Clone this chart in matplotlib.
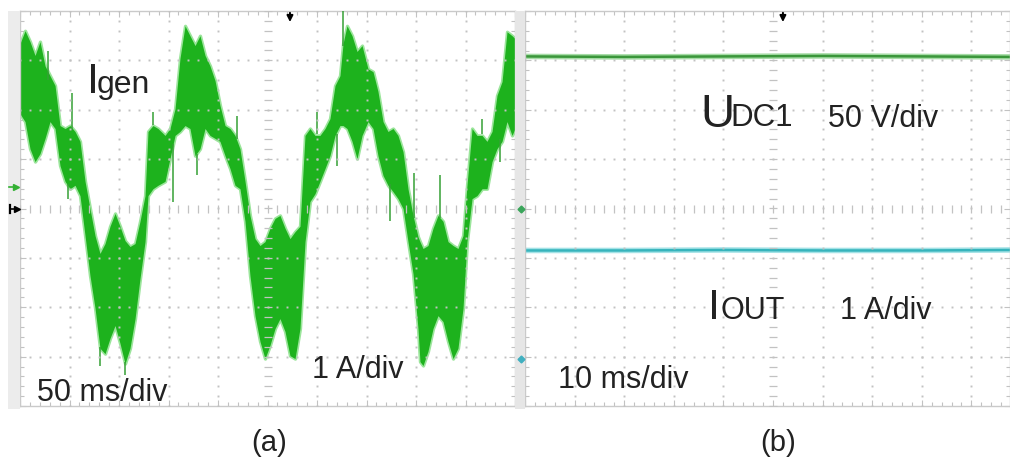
import numpy as np
import matplotlib
matplotlib.use("Agg")
import matplotlib.pyplot as plt
from matplotlib.ticker import MultipleLocator
from matplotlib.patches import Rectangle

plt.rcParams['font.family'] = ['Liberation Sans', 'DejaVu Sans']

# ---------------- Data ----------------
# Panel (a): generator current Igen, time in ms (50 ms/div), current in A (1 A/div, screen centre = 0)
igen_t = [0, 5.1, 10.1, 15.2, 20.2, 25.3, 30.3, 35.4, 40.4, 45.5, 50.5, 55.6, 60.6, 65.7,
          70.7, 75.8, 80.8, 85.9, 90.9, 96.0, 101.0, 106.1, 111.1, 116.2, 121.2, 126.3,
          129.3, 134.3, 139.4, 146.5, 151.5, 156.6, 161.6, 166.7, 171.7, 176.8, 181.8,
          186.9, 191.9, 197.0, 202.0, 207.1, 212.1, 217.2, 222.2, 227.3, 232.3, 237.4,
          242.4, 247.5, 252.5, 257.6, 262.6, 267.7, 272.7, 277.8, 282.8, 287.9, 292.9,
          298.0, 303.0, 308.1, 313.1, 318.2, 323.2, 326.3, 330.3, 335.4, 340.4, 345.5,
          351.5, 356.6, 361.6, 366.7, 371.7, 376.8, 381.8, 386.9, 391.9, 397.0, 402.0,
          404.0, 407.1, 412.1, 417.2, 422.2, 427.3, 432.3, 437.4, 442.4, 447.5, 451.5,
          456.6, 461.6, 466.7, 471.7, 476.8, 481.8, 486.9, 491.9, 497.0, 500.0]
igen_upper = [3.34, 3.60, 3.38, 3.10, 3.38, 2.89, 2.69, 2.49, 1.68, 1.62, 1.68, 1.56, 1.36, 0.55,
              0.00, -0.55, -0.91, -0.71, -0.36, -0.10, -0.36, -0.65, -0.77, -0.71, -0.26, 0.26,
              1.56, 1.68, 1.62, 1.48, 1.62, 2.02, 3.04, 3.70, 3.50, 3.30, 3.50,
              3.10, 2.89, 2.59, 2.09, 1.68, 1.62, 1.48, 1.21, 0.55, -0.14, -0.61,
              -0.75, -0.67, -0.40, -0.20, -0.14, -0.40, -0.61, -0.47, -0.36, 1.48, 1.62,
              1.48, 1.48, 1.62, 1.82, 2.49, 2.69, 3.34, 3.70, 3.50, 3.18, 3.30,
              2.83, 2.77, 2.37, 1.76, 1.56, 1.62, 1.48, 1.15, 0.40, -0.14, -0.57,
              -0.67, -0.81, -0.75, -0.40, -0.14, -0.26, -0.67, -0.75, -0.81, -0.55, 0.47,
              1.62, 1.48, 1.48, 1.36, 1.56, 2.29, 2.57, 3.58, 3.50, 3.44]
igen_lower = [1.92, 1.76, 1.21, 0.95, 1.11, 1.42, 1.76, 1.62, 0.87, 0.55, 0.40, 0.47, 0.26, -0.55,
              -1.36, -2.02, -2.83, -2.94, -2.63, -2.37, -2.73, -3.14, -2.83, -2.23, -1.42, -0.67,
              0.26, 0.40, 0.47, 0.55, 1.01, 1.48, 1.56, 1.68, 1.62, 1.07, 1.21,
              1.62, 1.48, 1.42, 1.36, 1.07, 0.81, 0.47, 0.40, -0.26, -1.36, -2.17,
              -2.69, -3.04, -2.77, -2.43, -2.23, -2.49, -2.98, -3.04, -2.43, -0.67, 0.14,
              0.30, 0.55, 0.81, 1.07, 1.48, 1.68, 1.68, 1.62, 1.36, 1.01, 1.48,
              1.76, 1.62, 1.07, 0.67, 0.47, 0.34, 0.20, 0.00, -0.67, -1.32, -2.43,
              -3.10, -3.18, -2.89, -2.43, -2.17, -2.29, -2.69, -3.04, -2.83, -2.02, -0.67,
              0.20, 0.26, 0.40, 0.40, 0.95, 1.21, 1.36, 1.76, 1.48, 1.62]
# isolated spikes on the Igen trace
spike_t = [28.3, 52.5, 48.5, 80.8, 106.1, 134.3, 154.5, 178.8, 219.2, 300.0, 320.2, 326.3,
           373.7, 398.0, 424.2, 466.7, 484.8]
spike_from = [2.60, 1.60, 0.50, -2.80, -3.10, 1.70, 1.30, 1.10, 1.40, 1.50, 1.50, 3.30,
              0.50, -0.20, -0.20, 1.50, 1.40]
spike_to = [3.20, 2.33, 0.20, -3.18, -3.38, 1.96, 0.14, 0.67, 1.88, 1.96, 0.87, 4.00,
            -0.26, 0.71, 0.67, 1.82, 0.95]

# Panel (b): UDC1 (50 V/div, reference at centre) and IOUT (1 A/div, reference -3.04 div)
b_t = [0, 20, 40, 60, 80, 98]
udc1_v = [154, 153.5, 154, 154.5, 154, 153.5]
iout_a = [2.19, 2.19, 2.20, 2.19, 2.19, 2.20]
udc_scale, udc_ref = 50.0, 0.0
iout_scale, iout_ref = 1.0, -3.04

# ---------------- Figure ----------------
W, H = 1010, 464
fig = plt.figure(figsize=(W / 100, H / 100), dpi=100)
fig.patch.set_facecolor('white')

def fx(px):
    return px / W

def fy(py):
    return 1 - py / H

# grey strips of the scope screen
fig.patches.append(Rectangle((fx(8), fy(410)), fx(12), (398) / H, transform=fig.transFigure,
                             facecolor='#ececec', edgecolor='none', zorder=0))
fig.patches.append(Rectangle((fx(515), fy(410)), fx(10), (398) / H, transform=fig.transFigure,
                             facecolor='#e6e6e6', edgecolor='none', zorder=0))

ax_a = fig.add_axes([fx(20), fy(407), fx(495), 395 / H])
ax_b = fig.add_axes([fx(525), fy(407), fx(485), 395 / H])

GRID = '#c2c2c2'

def scope_grid(ax, xdiv, xmax):
    ax.set_xlim(0, xmax)
    ax.set_ylim(-4, 4)
    ax.set_facecolor('white')
    for s in ax.spines.values():
        s.set_color('#cacaca')
        s.set_linewidth(1.0)
    ax.xaxis.set_major_locator(MultipleLocator(xdiv))
    ax.xaxis.set_minor_locator(MultipleLocator(xdiv / 5))
    ax.yaxis.set_major_locator(MultipleLocator(1))
    ax.yaxis.set_minor_locator(MultipleLocator(0.2))
    ax.tick_params(which='both', direction='in', top=True, right=True, color=GRID,
                   labelbottom=False, labelleft=False, width=0.8)
    ax.tick_params(which='major', length=4)
    ax.tick_params(which='minor', length=3)
    yy = np.arange(-4, 4.001, 0.2)
    xx = np.arange(0, xmax + 1e-6, xdiv / 5)
    for k in range(1, int(xmax / xdiv) + 1):
        xv = k * xdiv
        if xv >= xmax:
            break
        if k == 5:
            ax.plot(np.full_like(yy, xv), yy, ls='none', marker='_', ms=6, mew=0.9,
                    color=GRID, zorder=4)
        else:
            ax.plot(np.full_like(yy, xv), yy, ls='none', marker='s', ms=1.4, mew=0,
                    color=GRID, zorder=4)
    for k in range(-3, 4):
        if k == 0:
            ax.plot(xx, np.zeros_like(xx), ls='none', marker='|', ms=6, mew=0.9,
                    color=GRID, zorder=4)
        else:
            ax.plot(xx, np.full_like(xx, k), ls='none', marker='s', ms=1.4, mew=0,
                    color=GRID, zorder=4)

scope_grid(ax_a, 50, 500)
scope_grid(ax_b, 10, 485 / 49.6 * 10)

# ---- panel (a) trace ----
GREEN = '#1db21d'
ax_a.fill_between(igen_t, igen_lower, igen_upper, color='#9be59b', lw=2.4,
                  edgecolor='#9be59b', zorder=2)
ax_a.fill_between(igen_t, igen_lower, igen_upper, color=GREEN, lw=0, zorder=2.5)
ax_a.vlines(spike_t, spike_from, spike_to, color='#35a035', lw=1.1, zorder=2.6)

# trigger arrows
for ax, tx in ((ax_a, 272.7), (ax_b, 52.0)):
    ax.annotate('', xy=(tx, 3.72), xytext=(tx, 4.02),
                arrowprops=dict(arrowstyle='-|>', color='black', lw=1.4, mutation_scale=9),
                annotation_clip=False, zorder=6)

# ---- panel (b) traces ----
udc_screen = [v / udc_scale + udc_ref for v in udc1_v]
iout_screen = [v / iout_scale + iout_ref for v in iout_a]
ax_b.plot(b_t, udc_screen, color='#a6dca6', lw=4.0, zorder=2, solid_capstyle='butt')
ax_b.plot(b_t, udc_screen, color='#3a963a', lw=1.8, zorder=2.5, solid_capstyle='butt')
ax_b.plot(b_t, iout_screen, color='#a4e2e6', lw=4.0, zorder=2, solid_capstyle='butt')
ax_b.plot(b_t, iout_screen, color='#36b4bc', lw=1.8, zorder=2.5, solid_capstyle='butt')

# ---- channel reference markers (figure pixels) ----
def fig_marker(px, py, marker, color, ms=5):
    fig.add_artist(plt.Line2D([fx(px)], [fy(py)], marker=marker, color=color, ms=ms,
                              ls='none', transform=fig.transFigure))

fig.add_artist(plt.Line2D([fx(9), fx(15)], [fy(188), fy(188)], color='#33b033', lw=1.2,
                          transform=fig.transFigure))
fig_marker(16, 188, '>', '#33b033', 4.5)
fig.add_artist(plt.Line2D([fx(10), fx(10)], [fy(206), fy(214)], color='black', lw=1.6,
                          transform=fig.transFigure))
fig.add_artist(plt.Line2D([fx(11), fx(16)], [fy(210), fy(210)], color='black', lw=1.2,
                          transform=fig.transFigure))
fig_marker(17, 210, '>', 'black', 4.5)
fig_marker(521, 210, 'D', '#3aa55a', 3.5)
fig_marker(521, 360, 'D', '#40b0c0', 3.5)

# ---- labels ----
TXT = '#222222'
fig.text(fx(87), fy(93), 'I', fontsize=31, color=TXT, va='baseline', ha='left')
fig.text(fx(97), fy(93), 'gen', fontsize=23, color=TXT, va='baseline', ha='left')
fig.text(fx(37), fy(401), '50 ms/div', fontsize=22, color=TXT, va='baseline', ha='left')
fig.text(fx(312), fy(378), '1 A/div', fontsize=22, color=TXT, va='baseline', ha='left')

fig.text(fx(700), fy(127), 'U', fontsize=34, color=TXT, va='baseline', ha='left')
fig.text(fx(730), fy(126), 'DC1', fontsize=22.5, color=TXT, va='baseline', ha='left')
fig.text(fx(828), fy(127), '50 V/div', fontsize=22, color=TXT, va='baseline', ha='left')
fig.text(fx(708), fy(319), 'I', fontsize=31, color=TXT, va='baseline', ha='left')
fig.text(fx(720), fy(319), 'OUT', fontsize=22, color=TXT, va='baseline', ha='left')
fig.text(fx(840), fy(319), '1 A/div', fontsize=22, color=TXT, va='baseline', ha='left')
fig.text(fx(558), fy(388), '10 ms/div', fontsize=22, color=TXT, va='baseline', ha='left')

fig.text(fx(269), fy(451), '(a)', fontsize=21, color=TXT, va='baseline', ha='center')
fig.text(fx(778), fy(451), '(b)', fontsize=21, color=TXT, va='baseline', ha='center')

fig.savefig('out.png', dpi=100, facecolor='white')
